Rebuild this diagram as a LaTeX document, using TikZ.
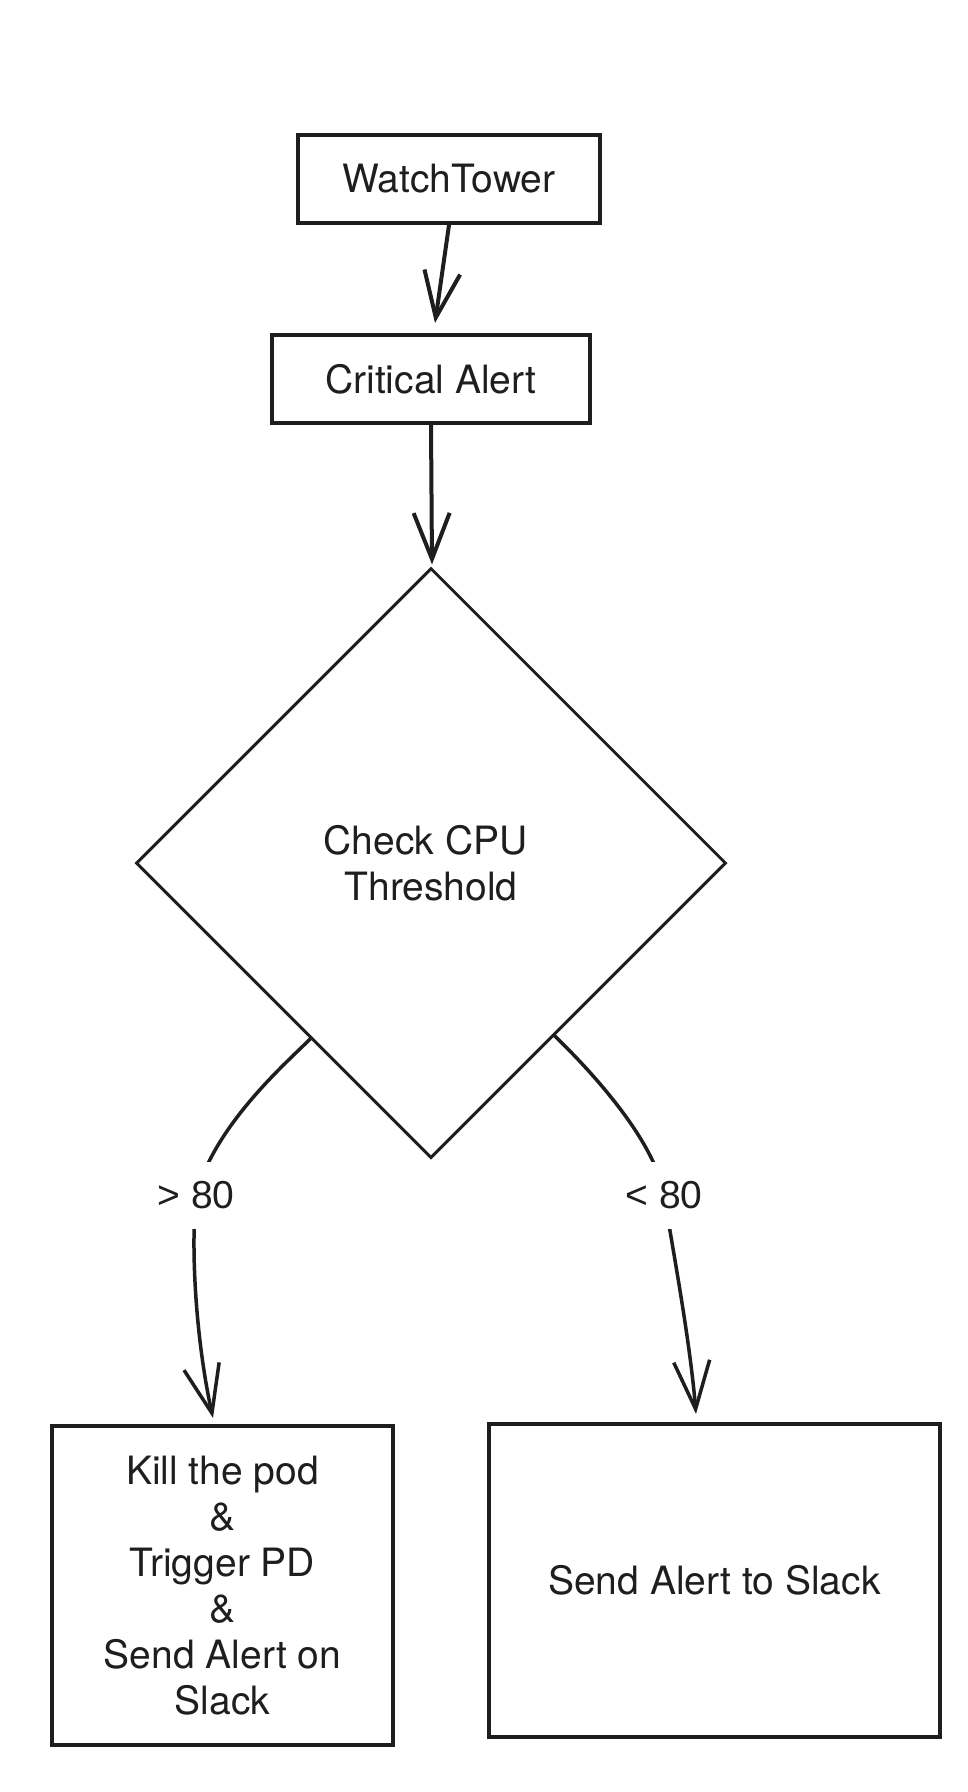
\documentclass[tikz,border=0pt]{standalone}
\usepackage{fontspec}
\setmainfont{TeX Gyre Heros}
\newfontfamily\labelfont{Liberation Sans}
\usetikzlibrary{shapes.geometric,arrows.meta,calc}
\pgfdeclarelayer{back}
\pgfdeclarelayer{bg}
\pgfsetlayers{back,bg,main}
\definecolor{ink}{HTML}{1E1E1E}
\begin{document}
\begin{tikzpicture}[x=1pt,y=-1pt,
  every node/.style={font=\fontsize{39}{46}\selectfont, text=ink},
  box/.style={draw=ink, line width=4pt, rectangle, inner sep=0pt, align=center},
  decision/.style={draw=ink, line width=3pt, diamond, aspect=1, inner sep=0pt,
    minimum width=590pt, minimum height=590pt, align=center},
  lbl/.style={fill=white, inner sep=0pt, minimum width=100pt, minimum height=67pt},
  conn/.style={draw=ink, line width=4pt, line cap=round,
    -{Straight Barb[length=46pt,width=36pt]}},
  bendconn/.style={draw=ink, line width=3.5pt, line cap=round,
    -{Straight Barb[length=48pt,width=36pt]}},
]
\begin{pgfonlayer}{back}
\fill[white] (0,0) rectangle (968,1792);
\end{pgfonlayer}
\useasboundingbox (0,0) rectangle (968,1792);

\node[box, minimum width=302pt, minimum height=88pt] (wt) at (449,179) {WatchTower};
\node[box, minimum width=318pt, minimum height=88pt] (ca) at (431,379) {Critical Alert};
\node[decision] (d) at (431,863) {Check CPU\hphantom{\ }\\Threshold};
\node[box, minimum width=341pt, minimum height=319pt] (lb) at (222.5,1585.5)
  {Kill the pod\\\&\\Trigger PD\\\&\\Send Alert on\\Slack};
\node[box, minimum width=451pt, minimum height=313pt] (rb) at (714.5,1580.5)
  {Send Alert to Slack};
\node[lbl] (gt) at (196,1195) {\labelfont > 80};
\node[lbl] (lt) at (664,1195) {\labelfont < 80};

\draw[conn] (wt.south) -- ($(ca.north)+(4,-10)$);
\draw[conn] (ca.south) -- ($(d.north)+(1,-2)$);

\begin{pgfonlayer}{bg}
\draw[bendconn] ($(d.west)!0.593!(d.south)$) .. controls (285,1064) and (215,1125) ..
  (gt.center) .. controls (190,1260) and (198,1350) .. ($(lb.north)+(-9.5,-6)$);
\draw[bendconn] ($(d.east)!0.583!(d.south)$) .. controls (590,1070) and (655,1140) ..
  (lt.center) .. controls (672,1245) and (690,1340) .. ($(rb.north)+(-18.5,-8)$);
\end{pgfonlayer}
\end{tikzpicture}
\end{document}
